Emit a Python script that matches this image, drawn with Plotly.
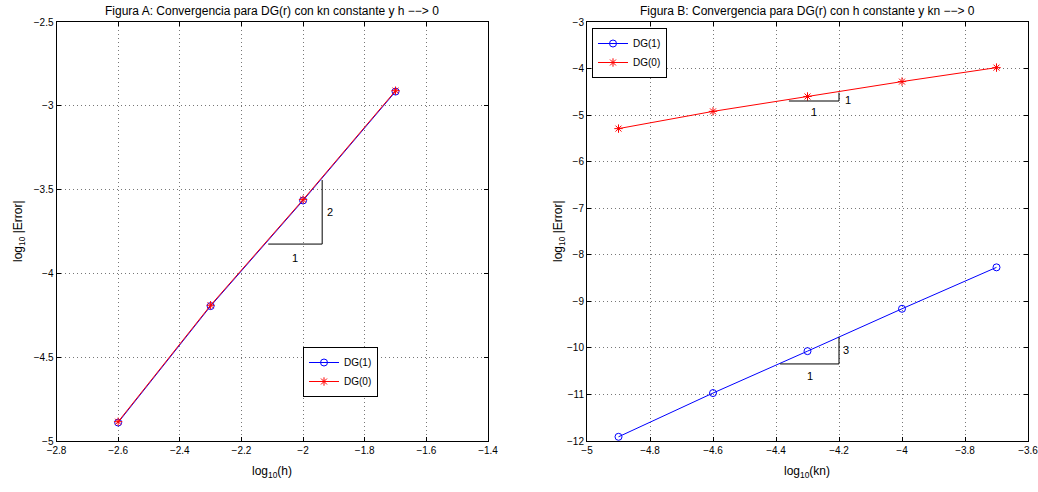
import plotly.graph_objects as go

# Panel A data
xa = [-2.6, -2.3, -2.0, -1.7]
ya_dg1 = [-4.89, -4.195, -3.565, -2.915]
ya_dg0 = [-4.885, -4.19, -3.56, -2.91]

# Panel B data
xb = [-4.9, -4.6, -4.3, -4.0, -3.7]
yb_dg1 = [-11.91, -10.97, -10.07, -9.16, -8.27]
yb_dg0 = [-5.29, -4.92, -4.60, -4.28, -3.98]

# tick values
xa_ticks = [-2.8, -2.6, -2.4, -2.2, -2.0, -1.8, -1.6, -1.4]
ya_ticks = [-5, -4.5, -4, -3.5, -3, -2.5]
xb_ticks = [-5, -4.8, -4.6, -4.4, -4.2, -4.0, -3.8, -3.6]
yb_ticks = [-12, -11, -10, -9, -8, -7, -6, -5, -4, -3]

# slope triangles: (x0, x1, y0, y1)
tri_a = (-2.113, -1.938, -3.825, -3.443)
tri_b_up = (-4.359, -4.2, -4.697, -4.518)
tri_b_lo = (-4.387, -4.2, -10.345, -9.765)

FONT = "Liberation Sans"
fig = go.Figure()

def series(x, y, name, color, symbol, xa_, ya_, leg):
    fig.add_trace(go.Scatter(x=x, y=y, mode="lines+markers", name=name,
                             line=dict(color=color, width=1),
                             marker=dict(symbol=symbol, size=7, color=color,
                                         line=dict(width=1, color=color)),
                             xaxis=xa_, yaxis=ya_, legend=leg))

series(xa, ya_dg1, "DG(1)", "#0000ff", "circle-open", "x", "y", "legend")
series(xa, ya_dg0, "DG(0)", "#ff0000", "asterisk-open", "x", "y", "legend")
series(xb, yb_dg1, "DG(1)", "#0000ff", "circle-open", "x2", "y2", "legend2")
series(xb, yb_dg0, "DG(0)", "#ff0000", "asterisk-open", "x2", "y2", "legend2")

shapes = []
def add_tri(t, xr, yr):
    x0, x1, y0, y1 = t
    shapes.append(dict(type="line", xref=xr, yref=yr, x0=x0, x1=x1, y0=y0, y1=y0,
                       line=dict(color="black", width=1)))
    shapes.append(dict(type="line", xref=xr, yref=yr, x0=x1, x1=x1, y0=y0, y1=y1,
                       line=dict(color="black", width=1)))
add_tri(tri_a, "x", "y")
add_tri(tri_b_up, "x2", "y2")
add_tri(tri_b_lo, "x2", "y2")

ann = []
def lab(x, y, t, xr, yr, **kw):
    ann.append(dict(x=x, y=y, xref=xr, yref=yr, text=t, showarrow=False,
                    font=dict(family=FONT, size=11, color="black"), **kw))
lab((tri_a[0] + tri_a[1]) / 2, tri_a[2], "1", "x", "y", yshift=-14)
lab(tri_a[1], (tri_a[2] + tri_a[3]) / 2, "2", "x", "y", xshift=8)
lab((tri_b_up[0] + tri_b_up[1]) / 2, tri_b_up[2], "1", "x2", "y2", yshift=-11)
lab(tri_b_up[1], tri_b_up[2], "1", "x2", "y2", xshift=9, yshift=1)
lab((tri_b_lo[0] + tri_b_lo[1]) / 2, tri_b_lo[2], "1", "x2", "y2", yshift=-12)
lab(tri_b_lo[1], (tri_b_lo[2] + tri_b_lo[3]) / 2, "3", "x2", "y2", xshift=7)

def paper_text(x, y, t, size=12, angle=0):
    ann.append(dict(x=x, y=y, xref="paper", yref="paper", text=t, showarrow=False,
                    textangle=angle, font=dict(family=FONT, size=size, color="black"),
                    xanchor="center", yanchor="middle"))
paper_text(272 / 1038, 1 - 11 / 492, "Figura A: Convergencia para DG(r) con kn constante y h −−> 0")
paper_text(807 / 1038, 1 - 11 / 492, "Figura B: Convergencia para DG(r) con h constante y kn −−> 0")
paper_text(272 / 1038, 1 - 472 / 492, "log<sub>10</sub>(h)")
paper_text(807 / 1038, 1 - 472 / 492, "log<sub>10</sub>(kn)")
paper_text(19 / 1038, 1 - 231 / 492, "log<sub>10</sub> |Error|", angle=-90)
paper_text(559 / 1038, 1 - 231 / 492, "log<sub>10</sub> |Error|", angle=-90)

axis_common = dict(showline=True, linecolor="black", linewidth=1, mirror="ticks",
                   ticks="inside", ticklen=4, tickcolor="black",
                   showgrid=True, gridcolor="#777777", griddash="1px,3px", gridwidth=1,
                   zeroline=False, ticklabeloverflow="allow",
                   tickfont=dict(family=FONT, size=10, color="black"))

def fmt(v):
    return f"{v:g}".replace("-", "−")

ya_dom = [1 - 441 / 492, 1 - 22 / 492]
leg_common = dict(xanchor="left", yanchor="top", bgcolor="white", bordercolor="black",
                  borderwidth=1, font=dict(family=FONT, size=10, color="black"),
                  tracegroupgap=0, itemwidth=30)
fig.update_layout(
    width=1038, height=492,
    margin=dict(l=0, r=0, t=0, b=0, autoexpand=False),
    paper_bgcolor="white", plot_bgcolor="white",
    xaxis=dict(domain=[56.5 / 1038, 488 / 1038], range=[-2.8, -1.4], tickvals=xa_ticks,
               ticktext=[fmt(v) for v in xa_ticks], anchor="y", **axis_common),
    yaxis=dict(domain=ya_dom, range=[-5, -2.5], tickvals=ya_ticks,
               ticktext=[fmt(v) for v in ya_ticks], anchor="x", **axis_common),
    xaxis2=dict(domain=[587 / 1038, 1028 / 1038], range=[-5, -3.6], tickvals=xb_ticks,
                ticktext=[fmt(v) for v in xb_ticks], anchor="y2", **axis_common),
    yaxis2=dict(domain=ya_dom, range=[-12, -3], tickvals=yb_ticks,
                ticktext=[fmt(v) for v in yb_ticks], anchor="x2", **axis_common),
    legend=dict(x=303 / 1038, y=1 - 347 / 492, **leg_common),
    legend2=dict(x=592 / 1038, y=1 - 28 / 492, **leg_common),
    shapes=shapes, annotations=ann, showlegend=True,
)

fig.write_html("out.html", config={"displayModeBar": False},
               post_script="document.body.style.margin='0';document.body.style.padding='0';")
